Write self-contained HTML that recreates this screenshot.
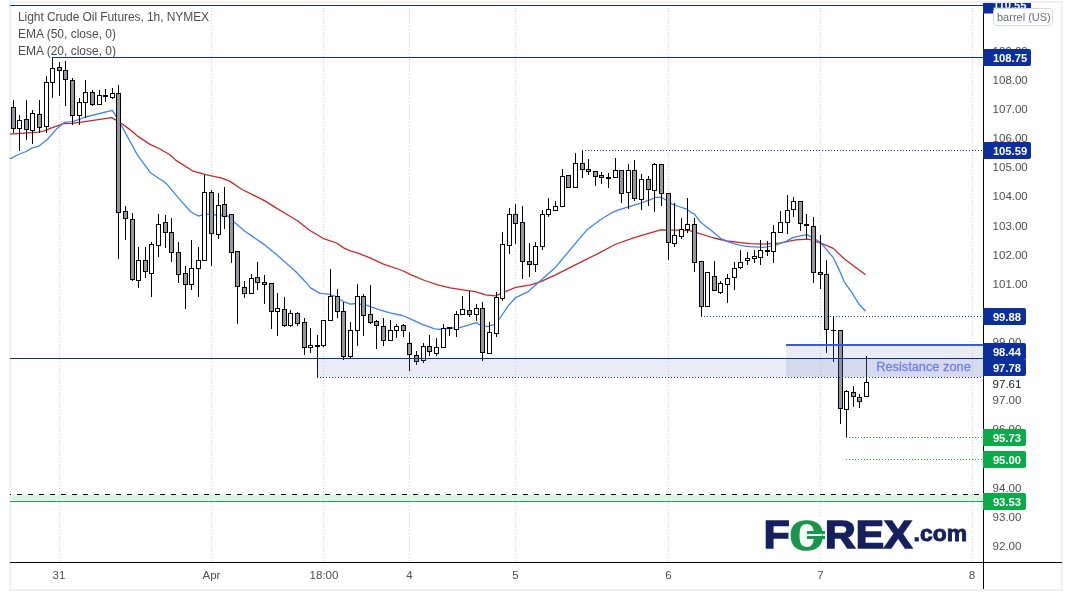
<!DOCTYPE html>
<html><head><meta charset="utf-8"><title>Light Crude Oil Futures</title>
<style>
html,body{margin:0;padding:0;background:#fff;}
body{width:1072px;height:596px;overflow:hidden;}
svg{display:block;will-change:transform;}
</style></head><body>
<svg width="1072" height="596" viewBox="0 0 1072 596" shape-rendering="crispEdges">
<rect x="9" y="1" width="1054" height="590" fill="#eef0f4"/>
<rect x="11" y="3" width="1050" height="586" fill="#fff"/>
<line x1="59.5" y1="2" x2="59.5" y2="562" stroke="#d3d5de" stroke-width="1" stroke-dasharray="1 2"/>
<line x1="211.5" y1="2" x2="211.5" y2="562" stroke="#d3d5de" stroke-width="1" stroke-dasharray="1 2"/>
<line x1="323.5" y1="2" x2="323.5" y2="562" stroke="#d3d5de" stroke-width="1" stroke-dasharray="1 2"/>
<line x1="409.5" y1="2" x2="409.5" y2="562" stroke="#d3d5de" stroke-width="1" stroke-dasharray="1 2"/>
<line x1="515.5" y1="2" x2="515.5" y2="562" stroke="#d3d5de" stroke-width="1" stroke-dasharray="1 2"/>
<line x1="668.5" y1="2" x2="668.5" y2="562" stroke="#d3d5de" stroke-width="1" stroke-dasharray="1 2"/>
<line x1="820.5" y1="2" x2="820.5" y2="562" stroke="#d3d5de" stroke-width="1" stroke-dasharray="1 2"/>
<line x1="972.5" y1="2" x2="972.5" y2="562" stroke="#d3d5de" stroke-width="1" stroke-dasharray="1 2"/>
<rect x="10" y="495" width="972" height="5" fill="#dff2e6"/>
<line x1="10" y1="494.5" x2="982" y2="494.5" stroke="#000" stroke-width="1" stroke-dasharray="5 6" stroke-dashoffset="4"/>
<rect x="10" y="501" width="973" height="1" fill="#0aa84a"/>
<polyline points="10.0,134.2 20.1,133.3 38.3,132.1 44.4,130.9 51.7,127.9 63.8,123.6 72.3,123.3 83.2,121.8 111.7,117.6 120.8,123.0 129.3,129.1 138.0,136.4 150.0,144.4 160.0,149.0 170.0,154.8 175.6,160.1 193.2,171.2 205.8,174.7 221.9,178.1 230.0,181.4 242.0,189.5 255.5,196.2 264.9,200.9 275.6,207.6 285.0,213.3 297.5,220.8 309.6,230.2 323.0,238.3 336.5,243.0 344.5,248.4 351.2,251.1 358.0,253.1 369.4,257.6 383.5,264.1 402.3,270.5 410.5,274.7 424.6,280.5 437.6,284.8 450.2,287.9 462.8,289.9 475.4,291.6 485.5,294.9 495.5,295.9 505.6,291.6 515.7,287.4 530.8,284.8 540.9,281.6 555.6,274.8 580.8,262.2 598.4,253.4 615.1,244.5 632.7,238.2 647.9,233.7 660.5,229.9 675.6,230.2 689.6,230.6 699.0,233.3 713.8,238.0 727.2,241.0 740.6,242.7 750.0,243.7 763.0,244.2 780.7,242.9 795.8,239.9 808.4,239.1 820.3,242.9 833.3,248.4 844.4,259.0 855.5,267.3 865.6,274.7" fill="none" stroke="#c9262d" stroke-width="1.3" stroke-linejoin="round" shape-rendering="auto"/>
<polyline points="10.0,158.8 19.5,154.0 26.2,151.5 32.3,147.9 38.9,146.1 46.8,140.0 56.5,129.1 64.4,122.4 72.3,121.6 79.5,119.4 85.6,117.0 112.3,110.3 120.8,124.3 129.3,140.0 137.2,154.6 150.4,172.7 165.5,182.7 180.6,200.4 190.7,211.7 198.2,216.0 205.8,214.2 218.4,215.0 227.5,215.6 235.0,222.7 245.2,231.5 263.6,244.1 277.0,254.9 295.9,271.7 305.3,281.7 310.8,288.1 320.2,293.4 328.2,294.1 334.9,296.1 344.4,302.2 350.4,304.2 355.1,303.5 367.2,305.3 378.0,309.3 390.0,312.9 402.3,315.5 410.3,318.8 421.1,323.9 434.5,328.9 439.9,329.3 446.6,328.5 460.0,327.6 476.3,322.6 480.4,325.3 487.7,326.7 493.8,324.7 499.2,319.3 508.1,306.0 515.3,297.8 528.3,291.6 540.9,280.3 555.6,267.2 577.5,240.8 587.0,229.8 600.4,219.7 612.5,212.3 617.2,210.3 627.5,207.1 634.2,205.1 645.0,201.7 651.7,199.1 655.7,197.3 661.1,197.3 665.1,199.5 671.9,203.8 678.6,206.5 686.6,209.1 692.0,213.2 694.3,213.8 700.3,221.9 707.0,227.3 713.8,232.6 720.5,238.3 727.2,241.4 735.3,244.1 743.3,245.8 750.0,246.7 763.0,247.4 773.1,245.9 785.7,241.6 793.3,237.4 806.5,234.6 812.9,237.7 820.3,242.3 825.9,248.8 833.3,257.7 838.8,269.1 844.4,282.1 851.8,292.3 859.1,304.3 865.6,311.3" fill="none" stroke="#3f83f2" stroke-width="1.3" stroke-linejoin="round" shape-rendering="auto"/>
<rect x="13" y="100" width="1" height="33" fill="#000"/>
<rect x="11" y="107" width="5" height="22" fill="#000"/>
<rect x="12" y="108" width="3" height="20" fill="#9598a1"/>
<rect x="19" y="115" width="1" height="36" fill="#000"/>
<rect x="17" y="120" width="5" height="9" fill="#000"/>
<rect x="18" y="121" width="3" height="7" fill="#fff"/>
<rect x="26" y="100" width="1" height="40" fill="#000"/>
<rect x="24" y="119" width="5" height="11" fill="#000"/>
<rect x="25" y="120" width="3" height="9" fill="#9598a1"/>
<rect x="32" y="110" width="1" height="34" fill="#000"/>
<rect x="30" y="113" width="5" height="18" fill="#000"/>
<rect x="31" y="114" width="3" height="16" fill="#fff"/>
<rect x="39" y="100" width="1" height="33" fill="#000"/>
<rect x="37" y="114" width="5" height="14" fill="#000"/>
<rect x="38" y="115" width="3" height="12" fill="#9598a1"/>
<rect x="46" y="76" width="1" height="57" fill="#000"/>
<rect x="44" y="82" width="5" height="45" fill="#000"/>
<rect x="45" y="83" width="3" height="43" fill="#fff"/>
<rect x="52" y="58" width="1" height="40" fill="#000"/>
<rect x="50" y="68" width="5" height="15" fill="#000"/>
<rect x="51" y="69" width="3" height="13" fill="#fff"/>
<rect x="59" y="62" width="1" height="34" fill="#000"/>
<rect x="57" y="67" width="5" height="4" fill="#000"/>
<rect x="58" y="68" width="3" height="2" fill="#9598a1"/>
<rect x="65" y="61" width="1" height="45" fill="#000"/>
<rect x="63" y="70" width="5" height="10" fill="#000"/>
<rect x="64" y="71" width="3" height="8" fill="#9598a1"/>
<rect x="72" y="78" width="1" height="47" fill="#000"/>
<rect x="70" y="80" width="5" height="36" fill="#000"/>
<rect x="71" y="81" width="3" height="34" fill="#9598a1"/>
<rect x="79" y="98" width="1" height="27" fill="#000"/>
<rect x="77" y="102" width="5" height="14" fill="#000"/>
<rect x="78" y="103" width="3" height="12" fill="#fff"/>
<rect x="85" y="80" width="1" height="38" fill="#000"/>
<rect x="83" y="92" width="5" height="11" fill="#000"/>
<rect x="84" y="93" width="3" height="9" fill="#fff"/>
<rect x="92" y="90" width="1" height="16" fill="#000"/>
<rect x="90" y="92" width="5" height="13" fill="#000"/>
<rect x="91" y="93" width="3" height="11" fill="#9598a1"/>
<rect x="99" y="90" width="1" height="15" fill="#000"/>
<rect x="97" y="95" width="5" height="10" fill="#000"/>
<rect x="98" y="96" width="3" height="8" fill="#fff"/>
<rect x="105" y="89" width="1" height="13" fill="#000"/>
<rect x="103" y="95" width="5" height="2" fill="#000"/>
<rect x="112" y="88" width="1" height="11" fill="#000"/>
<rect x="110" y="93" width="5" height="5" fill="#000"/>
<rect x="111" y="94" width="3" height="3" fill="#fff"/>
<rect x="118" y="85" width="1" height="174" fill="#000"/>
<rect x="116" y="93" width="5" height="120" fill="#000"/>
<rect x="117" y="94" width="3" height="118" fill="#9598a1"/>
<rect x="125" y="206" width="1" height="34" fill="#000"/>
<rect x="123" y="211" width="5" height="8" fill="#000"/>
<rect x="124" y="212" width="3" height="6" fill="#9598a1"/>
<rect x="132" y="213" width="1" height="68" fill="#000"/>
<rect x="130" y="219" width="5" height="61" fill="#000"/>
<rect x="131" y="220" width="3" height="59" fill="#9598a1"/>
<rect x="138" y="247" width="1" height="41" fill="#000"/>
<rect x="136" y="260" width="5" height="21" fill="#000"/>
<rect x="137" y="261" width="3" height="19" fill="#fff"/>
<rect x="145" y="247" width="1" height="31" fill="#000"/>
<rect x="143" y="260" width="5" height="12" fill="#000"/>
<rect x="144" y="261" width="3" height="10" fill="#9598a1"/>
<rect x="151" y="242" width="1" height="55" fill="#000"/>
<rect x="149" y="244" width="5" height="30" fill="#000"/>
<rect x="150" y="245" width="3" height="28" fill="#fff"/>
<rect x="158" y="214" width="1" height="43" fill="#000"/>
<rect x="156" y="224" width="5" height="22" fill="#000"/>
<rect x="157" y="225" width="3" height="20" fill="#fff"/>
<rect x="165" y="215" width="1" height="33" fill="#000"/>
<rect x="163" y="222" width="5" height="11" fill="#000"/>
<rect x="164" y="223" width="3" height="9" fill="#9598a1"/>
<rect x="171" y="218" width="1" height="44" fill="#000"/>
<rect x="169" y="232" width="5" height="21" fill="#000"/>
<rect x="170" y="233" width="3" height="19" fill="#9598a1"/>
<rect x="178" y="242" width="1" height="41" fill="#000"/>
<rect x="176" y="252" width="5" height="23" fill="#000"/>
<rect x="177" y="253" width="3" height="21" fill="#9598a1"/>
<rect x="185" y="266" width="1" height="43" fill="#000"/>
<rect x="183" y="273" width="5" height="12" fill="#000"/>
<rect x="184" y="274" width="3" height="10" fill="#9598a1"/>
<rect x="191" y="240" width="1" height="50" fill="#000"/>
<rect x="189" y="268" width="5" height="17" fill="#000"/>
<rect x="190" y="269" width="3" height="15" fill="#fff"/>
<rect x="198" y="247" width="1" height="50" fill="#000"/>
<rect x="196" y="260" width="5" height="9" fill="#000"/>
<rect x="197" y="261" width="3" height="7" fill="#fff"/>
<rect x="204" y="175" width="1" height="86" fill="#000"/>
<rect x="202" y="192" width="5" height="69" fill="#000"/>
<rect x="203" y="193" width="3" height="67" fill="#fff"/>
<rect x="211" y="190" width="1" height="76" fill="#000"/>
<rect x="209" y="192" width="5" height="42" fill="#000"/>
<rect x="210" y="193" width="3" height="40" fill="#9598a1"/>
<rect x="218" y="193" width="1" height="46" fill="#000"/>
<rect x="216" y="205" width="5" height="30" fill="#000"/>
<rect x="217" y="206" width="3" height="28" fill="#fff"/>
<rect x="224" y="187" width="1" height="42" fill="#000"/>
<rect x="222" y="204" width="5" height="13" fill="#000"/>
<rect x="223" y="205" width="3" height="11" fill="#9598a1"/>
<rect x="231" y="214" width="1" height="49" fill="#000"/>
<rect x="229" y="214" width="5" height="39" fill="#000"/>
<rect x="230" y="215" width="3" height="37" fill="#9598a1"/>
<rect x="237" y="251" width="1" height="73" fill="#000"/>
<rect x="235" y="251" width="5" height="36" fill="#000"/>
<rect x="236" y="252" width="3" height="34" fill="#9598a1"/>
<rect x="244" y="281" width="1" height="17" fill="#000"/>
<rect x="242" y="287" width="5" height="7" fill="#000"/>
<rect x="243" y="288" width="3" height="5" fill="#9598a1"/>
<rect x="251" y="274" width="1" height="20" fill="#000"/>
<rect x="249" y="278" width="5" height="16" fill="#000"/>
<rect x="250" y="279" width="3" height="14" fill="#fff"/>
<rect x="257" y="262" width="1" height="28" fill="#000"/>
<rect x="255" y="277" width="5" height="6" fill="#000"/>
<rect x="256" y="278" width="3" height="4" fill="#9598a1"/>
<rect x="264" y="275" width="1" height="29" fill="#000"/>
<rect x="262" y="282" width="5" height="3" fill="#000"/>
<rect x="263" y="283" width="3" height="1" fill="#9598a1"/>
<rect x="271" y="283" width="1" height="46" fill="#000"/>
<rect x="269" y="283" width="5" height="29" fill="#000"/>
<rect x="270" y="284" width="3" height="27" fill="#9598a1"/>
<rect x="277" y="293" width="1" height="43" fill="#000"/>
<rect x="275" y="308" width="5" height="4" fill="#000"/>
<rect x="276" y="309" width="3" height="2" fill="#fff"/>
<rect x="284" y="297" width="1" height="30" fill="#000"/>
<rect x="282" y="309" width="5" height="17" fill="#000"/>
<rect x="283" y="310" width="3" height="15" fill="#9598a1"/>
<rect x="290" y="310" width="1" height="17" fill="#000"/>
<rect x="288" y="313" width="5" height="13" fill="#000"/>
<rect x="289" y="314" width="3" height="11" fill="#fff"/>
<rect x="297" y="312" width="1" height="14" fill="#000"/>
<rect x="295" y="313" width="5" height="11" fill="#000"/>
<rect x="296" y="314" width="3" height="9" fill="#9598a1"/>
<rect x="304" y="318" width="1" height="37" fill="#000"/>
<rect x="302" y="322" width="5" height="26" fill="#000"/>
<rect x="303" y="323" width="3" height="24" fill="#9598a1"/>
<rect x="310" y="328" width="1" height="25" fill="#000"/>
<rect x="308" y="345" width="5" height="3" fill="#000"/>
<rect x="309" y="346" width="3" height="1" fill="#fff"/>
<rect x="317" y="335" width="1" height="43" fill="#000"/>
<rect x="315" y="345" width="5" height="2" fill="#000"/>
<rect x="323" y="320" width="1" height="27" fill="#000"/>
<rect x="321" y="320" width="5" height="26" fill="#000"/>
<rect x="322" y="321" width="3" height="24" fill="#fff"/>
<rect x="330" y="269" width="1" height="52" fill="#000"/>
<rect x="328" y="296" width="5" height="25" fill="#000"/>
<rect x="329" y="297" width="3" height="23" fill="#fff"/>
<rect x="337" y="289" width="1" height="29" fill="#000"/>
<rect x="335" y="296" width="5" height="16" fill="#000"/>
<rect x="336" y="297" width="3" height="14" fill="#9598a1"/>
<rect x="343" y="302" width="1" height="58" fill="#000"/>
<rect x="341" y="311" width="5" height="46" fill="#000"/>
<rect x="342" y="312" width="3" height="44" fill="#9598a1"/>
<rect x="350" y="322" width="1" height="37" fill="#000"/>
<rect x="348" y="330" width="5" height="27" fill="#000"/>
<rect x="349" y="331" width="3" height="25" fill="#fff"/>
<rect x="357" y="284" width="1" height="62" fill="#000"/>
<rect x="355" y="296" width="5" height="35" fill="#000"/>
<rect x="356" y="297" width="3" height="33" fill="#fff"/>
<rect x="363" y="294" width="1" height="42" fill="#000"/>
<rect x="361" y="296" width="5" height="20" fill="#000"/>
<rect x="362" y="297" width="3" height="18" fill="#9598a1"/>
<rect x="370" y="285" width="1" height="39" fill="#000"/>
<rect x="368" y="314" width="5" height="9" fill="#000"/>
<rect x="369" y="315" width="3" height="7" fill="#9598a1"/>
<rect x="376" y="320" width="1" height="29" fill="#000"/>
<rect x="374" y="321" width="5" height="5" fill="#000"/>
<rect x="375" y="322" width="3" height="3" fill="#9598a1"/>
<rect x="383" y="318" width="1" height="28" fill="#000"/>
<rect x="381" y="326" width="5" height="15" fill="#000"/>
<rect x="382" y="327" width="3" height="13" fill="#9598a1"/>
<rect x="390" y="320" width="1" height="21" fill="#000"/>
<rect x="388" y="330" width="5" height="11" fill="#000"/>
<rect x="389" y="331" width="3" height="9" fill="#fff"/>
<rect x="396" y="324" width="1" height="14" fill="#000"/>
<rect x="394" y="326" width="5" height="5" fill="#000"/>
<rect x="395" y="327" width="3" height="3" fill="#fff"/>
<rect x="403" y="324" width="1" height="13" fill="#000"/>
<rect x="401" y="325" width="5" height="6" fill="#000"/>
<rect x="402" y="326" width="3" height="4" fill="#9598a1"/>
<rect x="409" y="332" width="1" height="39" fill="#000"/>
<rect x="407" y="343" width="5" height="12" fill="#000"/>
<rect x="408" y="344" width="3" height="10" fill="#9598a1"/>
<rect x="416" y="351" width="1" height="14" fill="#000"/>
<rect x="414" y="355" width="5" height="7" fill="#000"/>
<rect x="415" y="356" width="3" height="5" fill="#9598a1"/>
<rect x="423" y="343" width="1" height="20" fill="#000"/>
<rect x="421" y="346" width="5" height="15" fill="#000"/>
<rect x="422" y="347" width="3" height="13" fill="#fff"/>
<rect x="429" y="335" width="1" height="21" fill="#000"/>
<rect x="427" y="346" width="5" height="6" fill="#000"/>
<rect x="428" y="347" width="3" height="4" fill="#9598a1"/>
<rect x="436" y="338" width="1" height="18" fill="#000"/>
<rect x="434" y="347" width="5" height="7" fill="#000"/>
<rect x="435" y="348" width="3" height="5" fill="#fff"/>
<rect x="443" y="324" width="1" height="24" fill="#000"/>
<rect x="441" y="328" width="5" height="20" fill="#000"/>
<rect x="442" y="329" width="3" height="18" fill="#fff"/>
<rect x="449" y="327" width="1" height="9" fill="#000"/>
<rect x="447" y="327" width="5" height="2" fill="#000"/>
<rect x="456" y="311" width="1" height="26" fill="#000"/>
<rect x="454" y="314" width="5" height="16" fill="#000"/>
<rect x="455" y="315" width="3" height="14" fill="#fff"/>
<rect x="462" y="296" width="1" height="19" fill="#000"/>
<rect x="460" y="309" width="5" height="6" fill="#000"/>
<rect x="461" y="310" width="3" height="4" fill="#fff"/>
<rect x="469" y="291" width="1" height="26" fill="#000"/>
<rect x="467" y="310" width="5" height="5" fill="#000"/>
<rect x="468" y="311" width="3" height="3" fill="#9598a1"/>
<rect x="476" y="304" width="1" height="17" fill="#000"/>
<rect x="474" y="308" width="5" height="7" fill="#000"/>
<rect x="475" y="309" width="3" height="5" fill="#fff"/>
<rect x="482" y="302" width="1" height="59" fill="#000"/>
<rect x="480" y="308" width="5" height="45" fill="#000"/>
<rect x="481" y="309" width="3" height="43" fill="#9598a1"/>
<rect x="489" y="322" width="1" height="32" fill="#000"/>
<rect x="487" y="332" width="5" height="22" fill="#000"/>
<rect x="488" y="333" width="3" height="20" fill="#fff"/>
<rect x="496" y="292" width="1" height="45" fill="#000"/>
<rect x="494" y="297" width="5" height="37" fill="#000"/>
<rect x="495" y="298" width="3" height="35" fill="#fff"/>
<rect x="502" y="232" width="1" height="69" fill="#000"/>
<rect x="500" y="244" width="5" height="55" fill="#000"/>
<rect x="501" y="245" width="3" height="53" fill="#fff"/>
<rect x="509" y="208" width="1" height="46" fill="#000"/>
<rect x="507" y="214" width="5" height="32" fill="#000"/>
<rect x="508" y="215" width="3" height="30" fill="#fff"/>
<rect x="515" y="204" width="1" height="40" fill="#000"/>
<rect x="513" y="214" width="5" height="10" fill="#000"/>
<rect x="514" y="215" width="3" height="8" fill="#9598a1"/>
<rect x="522" y="206" width="1" height="73" fill="#000"/>
<rect x="520" y="222" width="5" height="40" fill="#000"/>
<rect x="521" y="223" width="3" height="38" fill="#9598a1"/>
<rect x="529" y="243" width="1" height="34" fill="#000"/>
<rect x="527" y="261" width="5" height="4" fill="#000"/>
<rect x="528" y="262" width="3" height="2" fill="#9598a1"/>
<rect x="535" y="242" width="1" height="30" fill="#000"/>
<rect x="533" y="246" width="5" height="19" fill="#000"/>
<rect x="534" y="247" width="3" height="17" fill="#fff"/>
<rect x="542" y="210" width="1" height="40" fill="#000"/>
<rect x="540" y="214" width="5" height="33" fill="#000"/>
<rect x="541" y="215" width="3" height="31" fill="#fff"/>
<rect x="548" y="198" width="1" height="19" fill="#000"/>
<rect x="546" y="209" width="5" height="6" fill="#000"/>
<rect x="547" y="210" width="3" height="4" fill="#fff"/>
<rect x="555" y="201" width="1" height="10" fill="#000"/>
<rect x="553" y="206" width="5" height="5" fill="#000"/>
<rect x="554" y="207" width="3" height="3" fill="#fff"/>
<rect x="562" y="169" width="1" height="38" fill="#000"/>
<rect x="560" y="176" width="5" height="31" fill="#000"/>
<rect x="561" y="177" width="3" height="29" fill="#fff"/>
<rect x="568" y="175" width="1" height="13" fill="#000"/>
<rect x="566" y="175" width="5" height="13" fill="#000"/>
<rect x="567" y="176" width="3" height="11" fill="#9598a1"/>
<rect x="575" y="153" width="1" height="35" fill="#000"/>
<rect x="573" y="163" width="5" height="25" fill="#000"/>
<rect x="574" y="164" width="3" height="23" fill="#fff"/>
<rect x="582" y="150" width="1" height="28" fill="#000"/>
<rect x="580" y="163" width="5" height="7" fill="#000"/>
<rect x="581" y="164" width="3" height="5" fill="#9598a1"/>
<rect x="588" y="159" width="1" height="16" fill="#000"/>
<rect x="586" y="169" width="5" height="3" fill="#000"/>
<rect x="587" y="170" width="3" height="1" fill="#9598a1"/>
<rect x="595" y="171" width="1" height="15" fill="#000"/>
<rect x="593" y="171" width="5" height="6" fill="#000"/>
<rect x="594" y="172" width="3" height="4" fill="#9598a1"/>
<rect x="601" y="172" width="1" height="12" fill="#000"/>
<rect x="599" y="175" width="5" height="3" fill="#000"/>
<rect x="600" y="176" width="3" height="1" fill="#9598a1"/>
<rect x="608" y="173" width="1" height="15" fill="#000"/>
<rect x="606" y="177" width="5" height="2" fill="#000"/>
<rect x="615" y="158" width="1" height="20" fill="#000"/>
<rect x="613" y="170" width="5" height="8" fill="#000"/>
<rect x="614" y="171" width="3" height="6" fill="#fff"/>
<rect x="621" y="170" width="1" height="33" fill="#000"/>
<rect x="619" y="170" width="5" height="24" fill="#000"/>
<rect x="620" y="171" width="3" height="22" fill="#9598a1"/>
<rect x="628" y="164" width="1" height="45" fill="#000"/>
<rect x="626" y="170" width="5" height="23" fill="#000"/>
<rect x="627" y="171" width="3" height="21" fill="#fff"/>
<rect x="634" y="160" width="1" height="41" fill="#000"/>
<rect x="632" y="170" width="5" height="29" fill="#000"/>
<rect x="633" y="171" width="3" height="27" fill="#9598a1"/>
<rect x="641" y="174" width="1" height="36" fill="#000"/>
<rect x="639" y="179" width="5" height="21" fill="#000"/>
<rect x="640" y="180" width="3" height="19" fill="#fff"/>
<rect x="648" y="176" width="1" height="30" fill="#000"/>
<rect x="646" y="179" width="5" height="11" fill="#000"/>
<rect x="647" y="180" width="3" height="9" fill="#9598a1"/>
<rect x="654" y="163" width="1" height="49" fill="#000"/>
<rect x="652" y="164" width="5" height="27" fill="#000"/>
<rect x="653" y="165" width="3" height="25" fill="#fff"/>
<rect x="661" y="164" width="1" height="42" fill="#000"/>
<rect x="659" y="164" width="5" height="30" fill="#000"/>
<rect x="660" y="165" width="3" height="28" fill="#9598a1"/>
<rect x="668" y="193" width="1" height="67" fill="#000"/>
<rect x="666" y="193" width="5" height="50" fill="#000"/>
<rect x="667" y="194" width="3" height="48" fill="#9598a1"/>
<rect x="674" y="203" width="1" height="44" fill="#000"/>
<rect x="672" y="235" width="5" height="9" fill="#000"/>
<rect x="673" y="236" width="3" height="7" fill="#fff"/>
<rect x="681" y="218" width="1" height="21" fill="#000"/>
<rect x="679" y="229" width="5" height="8" fill="#000"/>
<rect x="680" y="230" width="3" height="6" fill="#fff"/>
<rect x="687" y="198" width="1" height="35" fill="#000"/>
<rect x="685" y="224" width="5" height="6" fill="#000"/>
<rect x="686" y="225" width="3" height="4" fill="#fff"/>
<rect x="694" y="218" width="1" height="54" fill="#000"/>
<rect x="692" y="224" width="5" height="39" fill="#000"/>
<rect x="693" y="225" width="3" height="37" fill="#9598a1"/>
<rect x="701" y="261" width="1" height="56" fill="#000"/>
<rect x="699" y="261" width="5" height="46" fill="#000"/>
<rect x="700" y="262" width="3" height="44" fill="#9598a1"/>
<rect x="707" y="272" width="1" height="35" fill="#000"/>
<rect x="705" y="272" width="5" height="35" fill="#000"/>
<rect x="706" y="273" width="3" height="33" fill="#fff"/>
<rect x="714" y="261" width="1" height="30" fill="#000"/>
<rect x="712" y="276" width="5" height="15" fill="#000"/>
<rect x="713" y="277" width="3" height="13" fill="#9598a1"/>
<rect x="720" y="281" width="1" height="13" fill="#000"/>
<rect x="718" y="283" width="5" height="10" fill="#000"/>
<rect x="719" y="284" width="3" height="8" fill="#fff"/>
<rect x="727" y="274" width="1" height="29" fill="#000"/>
<rect x="725" y="278" width="5" height="7" fill="#000"/>
<rect x="726" y="279" width="3" height="5" fill="#fff"/>
<rect x="734" y="262" width="1" height="28" fill="#000"/>
<rect x="732" y="268" width="5" height="10" fill="#000"/>
<rect x="733" y="269" width="3" height="8" fill="#fff"/>
<rect x="740" y="250" width="1" height="19" fill="#000"/>
<rect x="738" y="262" width="5" height="6" fill="#000"/>
<rect x="739" y="263" width="3" height="4" fill="#fff"/>
<rect x="747" y="252" width="1" height="13" fill="#000"/>
<rect x="745" y="258" width="5" height="3" fill="#000"/>
<rect x="746" y="259" width="3" height="1" fill="#fff"/>
<rect x="754" y="250" width="1" height="13" fill="#000"/>
<rect x="752" y="256" width="5" height="3" fill="#000"/>
<rect x="753" y="257" width="3" height="1" fill="#fff"/>
<rect x="760" y="240" width="1" height="25" fill="#000"/>
<rect x="758" y="250" width="5" height="8" fill="#000"/>
<rect x="759" y="251" width="3" height="6" fill="#fff"/>
<rect x="767" y="241" width="1" height="15" fill="#000"/>
<rect x="765" y="250" width="5" height="2" fill="#000"/>
<rect x="773" y="225" width="1" height="38" fill="#000"/>
<rect x="771" y="232" width="5" height="20" fill="#000"/>
<rect x="772" y="233" width="3" height="18" fill="#fff"/>
<rect x="780" y="211" width="1" height="22" fill="#000"/>
<rect x="778" y="222" width="5" height="11" fill="#000"/>
<rect x="779" y="223" width="3" height="9" fill="#fff"/>
<rect x="787" y="195" width="1" height="39" fill="#000"/>
<rect x="785" y="210" width="5" height="13" fill="#000"/>
<rect x="786" y="211" width="3" height="11" fill="#fff"/>
<rect x="793" y="197" width="1" height="20" fill="#000"/>
<rect x="791" y="201" width="5" height="9" fill="#000"/>
<rect x="792" y="202" width="3" height="7" fill="#fff"/>
<rect x="800" y="201" width="1" height="30" fill="#000"/>
<rect x="798" y="201" width="5" height="23" fill="#000"/>
<rect x="799" y="202" width="3" height="21" fill="#9598a1"/>
<rect x="806" y="214" width="1" height="25" fill="#000"/>
<rect x="804" y="224" width="5" height="2" fill="#000"/>
<rect x="813" y="217" width="1" height="66" fill="#000"/>
<rect x="811" y="226" width="5" height="47" fill="#000"/>
<rect x="812" y="227" width="3" height="45" fill="#9598a1"/>
<rect x="820" y="235" width="1" height="54" fill="#000"/>
<rect x="818" y="272" width="5" height="3" fill="#000"/>
<rect x="819" y="273" width="3" height="1" fill="#9598a1"/>
<rect x="826" y="260" width="1" height="93" fill="#000"/>
<rect x="824" y="274" width="5" height="56" fill="#000"/>
<rect x="825" y="275" width="3" height="54" fill="#9598a1"/>
<rect x="833" y="317" width="1" height="45" fill="#000"/>
<rect x="831" y="330" width="5" height="1" fill="#000"/>
<rect x="840" y="330" width="1" height="94" fill="#000"/>
<rect x="838" y="330" width="5" height="79" fill="#000"/>
<rect x="839" y="331" width="3" height="77" fill="#9598a1"/>
<rect x="846" y="390" width="1" height="48" fill="#000"/>
<rect x="844" y="391" width="5" height="19" fill="#000"/>
<rect x="845" y="392" width="3" height="17" fill="#fff"/>
<rect x="853" y="386" width="1" height="21" fill="#000"/>
<rect x="851" y="392" width="5" height="5" fill="#000"/>
<rect x="852" y="393" width="3" height="3" fill="#9598a1"/>
<rect x="859" y="394" width="1" height="14" fill="#000"/>
<rect x="857" y="397" width="5" height="5" fill="#000"/>
<rect x="858" y="398" width="3" height="3" fill="#9598a1"/>
<rect x="866" y="356" width="1" height="41" fill="#000"/>
<rect x="864" y="382" width="5" height="15" fill="#000"/>
<rect x="865" y="383" width="3" height="13" fill="#fff"/>
<rect x="317" y="359" width="666" height="18" fill="rgb(108,122,195)" fill-opacity="0.15"/>
<rect x="786" y="346" width="197" height="31" fill="rgb(108,122,195)" fill-opacity="0.15"/>
<rect x="786" y="344" width="197" height="2" fill="#3a5cd2"/>
<rect x="10" y="5" width="973" height="1" fill="#0f2f9a"/>
<rect x="52" y="57" width="931" height="1" fill="#0f2f9a"/>
<rect x="10" y="358" width="973" height="1" fill="#0f2f9a"/>
<line x1="582" y1="150.5" x2="983" y2="150.5" stroke="#0f2f9a" stroke-width="1" stroke-dasharray="1 2"/>
<line x1="701" y1="316.5" x2="983" y2="316.5" stroke="#0f2f9a" stroke-width="1" stroke-dasharray="1 2"/>
<line x1="317" y1="377.5" x2="983" y2="377.5" stroke="#0f2f9a" stroke-width="1" stroke-dasharray="1 2"/>
<line x1="846" y1="437.5" x2="983" y2="437.5" stroke="#0aa84a" stroke-width="1" stroke-dasharray="1 2"/>
<line x1="846" y1="459.5" x2="983" y2="459.5" stroke="#0aa84a" stroke-width="1" stroke-dasharray="1 2"/>
<rect x="10" y="562" width="1052" height="1" fill="#000"/>
<rect x="983" y="3" width="1" height="586" fill="#000"/>
<text x="992.6" y="54.6" font-family="'Liberation Sans', Arial, sans-serif" font-size="11.5" fill="#4d4d4d">109.00</text>
<text x="992.6" y="83.8" font-family="'Liberation Sans', Arial, sans-serif" font-size="11.5" fill="#4d4d4d">108.00</text>
<text x="992.6" y="112.9" font-family="'Liberation Sans', Arial, sans-serif" font-size="11.5" fill="#4d4d4d">107.00</text>
<text x="992.6" y="142.0" font-family="'Liberation Sans', Arial, sans-serif" font-size="11.5" fill="#4d4d4d">106.00</text>
<text x="992.6" y="171.2" font-family="'Liberation Sans', Arial, sans-serif" font-size="11.5" fill="#4d4d4d">105.00</text>
<text x="992.6" y="200.3" font-family="'Liberation Sans', Arial, sans-serif" font-size="11.5" fill="#4d4d4d">104.00</text>
<text x="992.6" y="229.5" font-family="'Liberation Sans', Arial, sans-serif" font-size="11.5" fill="#4d4d4d">103.00</text>
<text x="992.6" y="258.6" font-family="'Liberation Sans', Arial, sans-serif" font-size="11.5" fill="#4d4d4d">102.00</text>
<text x="992.6" y="287.7" font-family="'Liberation Sans', Arial, sans-serif" font-size="11.5" fill="#4d4d4d">101.00</text>
<text x="992.6" y="346.0" font-family="'Liberation Sans', Arial, sans-serif" font-size="11.5" fill="#4d4d4d">99.00</text>
<text x="992.6" y="404.3" font-family="'Liberation Sans', Arial, sans-serif" font-size="11.5" fill="#4d4d4d">97.00</text>
<text x="992.6" y="433.4" font-family="'Liberation Sans', Arial, sans-serif" font-size="11.5" fill="#4d4d4d">96.00</text>
<text x="992.6" y="491.7" font-family="'Liberation Sans', Arial, sans-serif" font-size="11.5" fill="#4d4d4d">94.00</text>
<text x="992.6" y="520.9" font-family="'Liberation Sans', Arial, sans-serif" font-size="11.5" fill="#4d4d4d">93.00</text>
<text x="992.6" y="550.0" font-family="'Liberation Sans', Arial, sans-serif" font-size="11.5" fill="#4d4d4d">92.00</text>
<rect x="984" y="375" width="50" height="16" fill="#fff"/>
<text x="992.6" y="387.7" font-family="'Liberation Sans', Arial, sans-serif" font-size="11.5" fill="#131722">97.61</text>
<path d="M983 -3.5 h46 a2 2 0 0 1 2 2 v13 a2 2 0 0 1 -2 2 h-46 z" fill="#0d2f9c" shape-rendering="auto"/><text x="992.9" y="9.2" font-family="'Liberation Sans', Arial, sans-serif" font-size="11.2" font-weight="bold" fill="#fff">110.55</text>
<path d="M983 49.0 h46 a2 2 0 0 1 2 2 v13 a2 2 0 0 1 -2 2 h-46 z" fill="#0d2f9c" shape-rendering="auto"/><text x="992.9" y="61.7" font-family="'Liberation Sans', Arial, sans-serif" font-size="11.2" font-weight="bold" fill="#fff">108.75</text>
<path d="M983 142.0 h46 a2 2 0 0 1 2 2 v13 a2 2 0 0 1 -2 2 h-46 z" fill="#0d2f9c" shape-rendering="auto"/><text x="992.9" y="154.7" font-family="'Liberation Sans', Arial, sans-serif" font-size="11.2" font-weight="bold" fill="#fff">105.59</text>
<path d="M983 308.0 h41 a2 2 0 0 1 2 2 v13 a2 2 0 0 1 -2 2 h-41 z" fill="#0d2f9c" shape-rendering="auto"/><text x="992.9" y="320.7" font-family="'Liberation Sans', Arial, sans-serif" font-size="11.2" font-weight="bold" fill="#fff">99.88</text>
<path d="M983 359.0 h41 a2 2 0 0 1 2 2 v13 a2 2 0 0 1 -2 2 h-41 z" fill="#0d2f9c" shape-rendering="auto"/><text x="992.9" y="371.7" font-family="'Liberation Sans', Arial, sans-serif" font-size="11.2" font-weight="bold" fill="#fff">97.78</text>
<path d="M983 343.0 h41 a2 2 0 0 1 2 2 v13 a2 2 0 0 1 -2 2 h-41 z" fill="#0d2f9c" shape-rendering="auto"/><text x="992.9" y="355.7" font-family="'Liberation Sans', Arial, sans-serif" font-size="11.2" font-weight="bold" fill="#fff">98.44</text>
<path d="M983 429.0 h41 a2 2 0 0 1 2 2 v13 a2 2 0 0 1 -2 2 h-41 z" fill="#0aab48" shape-rendering="auto"/><text x="992.9" y="441.7" font-family="'Liberation Sans', Arial, sans-serif" font-size="11.2" font-weight="bold" fill="#fff">95.73</text>
<path d="M983 451.0 h41 a2 2 0 0 1 2 2 v13 a2 2 0 0 1 -2 2 h-41 z" fill="#0aab48" shape-rendering="auto"/><text x="992.9" y="463.7" font-family="'Liberation Sans', Arial, sans-serif" font-size="11.2" font-weight="bold" fill="#fff">95.00</text>
<path d="M983 493.0 h41 a2 2 0 0 1 2 2 v13 a2 2 0 0 1 -2 2 h-41 z" fill="#0aab48" shape-rendering="auto"/><text x="992.9" y="505.7" font-family="'Liberation Sans', Arial, sans-serif" font-size="11.2" font-weight="bold" fill="#fff">93.53</text>
<rect x="993.5" y="8.5" width="59" height="17" rx="3" ry="3" fill="#fff" stroke="#d6d8e0" stroke-width="1" shape-rendering="auto"/>
<text x="997" y="20.5" font-family="'Liberation Sans', Arial, sans-serif" font-size="11" fill="#6a6d78">barrel (US)</text>
<rect x="9" y="1" width="1054" height="2" fill="#eef0f4"/>
<rect x="0" y="0" width="1072" height="1" fill="#fff"/>
<text x="59" y="579.2" text-anchor="middle" font-family="'Liberation Sans', Arial, sans-serif" font-size="11.5" fill="#4d4d4d">31</text>
<text x="211.5" y="579.2" text-anchor="middle" font-family="'Liberation Sans', Arial, sans-serif" font-size="11.5" fill="#4d4d4d">Apr</text>
<text x="324" y="579.2" text-anchor="middle" font-family="'Liberation Sans', Arial, sans-serif" font-size="11.5" fill="#4d4d4d">18:00</text>
<text x="409.5" y="579.2" text-anchor="middle" font-family="'Liberation Sans', Arial, sans-serif" font-size="11.5" fill="#4d4d4d">4</text>
<text x="515.5" y="579.2" text-anchor="middle" font-family="'Liberation Sans', Arial, sans-serif" font-size="11.5" fill="#4d4d4d">5</text>
<text x="668.5" y="579.2" text-anchor="middle" font-family="'Liberation Sans', Arial, sans-serif" font-size="11.5" fill="#4d4d4d">6</text>
<text x="820.5" y="579.2" text-anchor="middle" font-family="'Liberation Sans', Arial, sans-serif" font-size="11.5" fill="#4d4d4d">7</text>
<text x="972" y="579.2" text-anchor="middle" font-family="'Liberation Sans', Arial, sans-serif" font-size="11.5" fill="#4d4d4d">8</text>
<text x="18" y="20.6" font-family="'Liberation Sans', Arial, sans-serif" font-size="12" letter-spacing="-0.07" fill="#4d4d4d">Light Crude Oil Futures, 1h, NYMEX</text>
<text x="18" y="37.6" font-family="'Liberation Sans', Arial, sans-serif" font-size="12" fill="#4d4d4d">EMA (50, close, 0)</text>
<text x="18" y="54.6" font-family="'Liberation Sans', Arial, sans-serif" font-size="12" fill="#4d4d4d">EMA (20, close, 0)</text>
<text x="876.2" y="370.8" font-family="'Liberation Sans', Arial, sans-serif" font-size="12.8" fill="#6e7cf0" stroke="#6e7cf0" stroke-width="0.3">Resistance zone</text>
<rect x="760" y="516" width="210" height="37" fill="#fff"/>
<text transform="translate(763.8,548) scale(1.115,1)" font-size="38" font-family="'Liberation Sans', Arial, sans-serif" font-weight="bold" stroke-linejoin="miter" shape-rendering="auto" fill="#16205c" stroke="#16205c" stroke-width="1.6">F</text>
<text transform="translate(789.3,549.8) scale(1.02,1)" font-size="44" font-family="'Liberation Serif', serif" font-weight="bold" stroke-linejoin="miter" shape-rendering="auto" fill="#1a964c" stroke="#1a964c" stroke-width="1.6">O</text>
<text transform="translate(825.1,548) scale(1.115,1)" font-size="38" font-family="'Liberation Sans', Arial, sans-serif" font-weight="bold" stroke-linejoin="miter" shape-rendering="auto" letter-spacing="0" fill="#16205c" stroke="#16205c" stroke-width="1.6">REX</text>
<text transform="translate(913.6,541) scale(1.04,1)" font-size="22" font-family="'Liberation Sans', Arial, sans-serif" font-weight="bold" stroke-linejoin="miter" shape-rendering="auto" fill="#16205c" stroke="#16205c" stroke-width="0.9">.com</text>
<rect x="812" y="533.6" width="10" height="2.6" fill="#fff"/>
<rect x="807" y="531" width="18.3" height="2.6" fill="#1a964c"/>
<rect x="807" y="536.2" width="18.3" height="2.5" fill="#1a964c"/>
</svg>
</body></html>
